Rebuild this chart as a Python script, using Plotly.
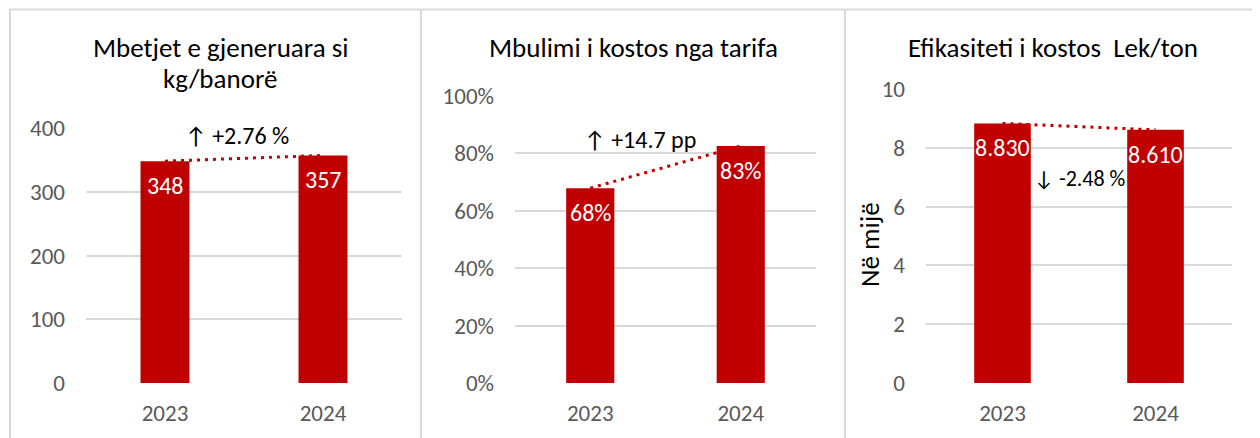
import plotly.graph_objects as go

# ---- data ----
years = ["2023", "2024"]
waste_kg = [348, 357]            # Mbetjet e gjeneruara si kg/banorë
cost_cover = [0.679, 0.826]      # Mbulimi i kostos nga tarifa
cost_eff = [8.83, 8.61]          # Efikasiteti i kostos Lek/ton (në mijë)

titles = [["Mbetjet e gjeneruara si", "kg/banorë"],
          ["Mbulimi i kostos nga tarifa"],
          ["Efikasiteti i kostos  Lek/ton"]]
changes = ["↑ +2.76 %", "↑ +14.7 pp", "↓ -2.48 %"]
y_title3 = "Në mijë"
y1_ticks = [0, 100, 200, 300, 400]
y2_ticks = [0, 0.2, 0.4, 0.6, 0.8, 1.0]
y3_ticks = [0, 2, 4, 6, 8, 10]

# page body has an 8px margin: map reference pixels into the figure
OFF = 8
W, H = 1260 - OFF, 438 - OFF
RED = "#c00000"
GRID = "#d9d9d9"
TICK = "#595959"
FONT = "Carlito, Calibri, Lato, sans-serif"


def px_x(p):
    return (p - OFF) / W


def px_y(p):
    return 1 - (p - OFF) / H


fig = go.Figure()

panels = [
    dict(vals=waste_kg, lbl=[f"{v:.0f}" for v in waste_kg], width=0.31,
         xd=(86, 402), ytop=128, rng=[0, 400], ticks=y1_ticks,
         tickfmt="", ann=(0.456, 389), annsize=24),
    dict(vals=cost_cover, lbl=[f"{v:.0%}" for v in cost_cover], width=0.32,
         xd=(515, 816), ytop=96, rng=[0, 1], ticks=y2_ticks,
         tickfmt=".0%", ann=(0.33, 0.848), annsize=24),
    dict(vals=cost_eff, lbl=[f"{v:.3f}" for v in cost_eff], width=0.37,
         xd=(926, 1232), ytop=89, rng=[0, 10], ticks=y3_ticks,
         tickfmt="", ann=(0.507, 6.96), annsize=22),
]

annotations = []
axes = {}
for i, p in enumerate(panels):
    n = "" if i == 0 else str(i + 1)
    xa, ya = "x" + n, "y" + n
    fig.add_trace(go.Bar(x=years, y=p["vals"], width=p["width"],
                         marker=dict(color=RED, line=dict(width=0)),
                         xaxis=xa, yaxis=ya, showlegend=False,
                         hoverinfo="skip"))
    fig.add_trace(go.Scatter(x=years, y=p["vals"], mode="lines",
                             line=dict(color=RED, width=3, dash="3px,5px"),
                             xaxis=xa, yaxis=ya, showlegend=False,
                             hoverinfo="skip"))
    axes["xaxis" + n] = dict(
        type="category", categoryorder="array", categoryarray=years,
        range=[-0.5, 1.5],
        domain=[px_x(p["xd"][0]), px_x(p["xd"][1])], anchor=ya,
        showgrid=False, showline=False, zeroline=False, ticks="",
        ticklabelstandoff=14, automargin=False,
        tickfont=dict(family=FONT, size=23, color=TICK), fixedrange=True)
    axes["yaxis" + n] = dict(
        domain=[px_y(383), px_y(p["ytop"])], anchor=xa,
        range=p["rng"], tickvals=p["ticks"], tickformat=p["tickfmt"],
        showgrid=True, gridcolor=GRID, gridwidth=2, zeroline=False,
        showline=False, ticks="", ticklabelstandoff=20, automargin=False,
        tickfont=dict(family=FONT, size=23, color=TICK), fixedrange=True)
    # data labels
    for k, (v, t) in enumerate(zip(p["vals"], p["lbl"])):
        annotations.append(dict(x=k, y=v, xref=xa, yref=ya, text=t,
                                showarrow=False, yanchor="top", yshift=-8,
                                font=dict(family=FONT, size=24, color="white")))
    # change annotation
    annotations.append(dict(x=p["ann"][0], y=p["ann"][1], xref=xa, yref=ya,
                            text=changes[i], showarrow=False,
                            font=dict(family=FONT, size=p["annsize"],
                                      color="#000000")))

# titles (one annotation per line)
title_x = [220, 633, 1053]
line_y = [48, 78]
for lines, tx in zip(titles, title_x):
    for ln, ty in zip(lines, line_y):
        annotations.append(dict(x=px_x(tx), y=px_y(ty), xref="paper",
                                yref="paper", text=ln, showarrow=False,
                                xanchor="center", yanchor="middle",
                                font=dict(family=FONT, size=27,
                                          color="#000000")))

# y-axis title of third panel
annotations.append(dict(x=px_x(870), y=px_y(245), xref="paper", yref="paper",
                        text=y_title3, textangle=-90, showarrow=False,
                        xanchor="center", yanchor="middle",
                        font=dict(family=FONT, size=27, color="#000000")))

# panel borders
shapes = [
    dict(type="line", xref="paper", yref="paper", x0=px_x(9), x1=1,
         y0=px_y(9.5), y1=px_y(9.5), line=dict(color=GRID, width=2)),
]
for bx in (10, 421, 845):
    shapes.append(dict(type="line", xref="paper", yref="paper",
                       x0=px_x(bx), x1=px_x(bx), y0=px_y(9), y1=0,
                       line=dict(color=GRID, width=2)))

fig.update_layout(width=W, height=H, margin=dict(l=0, r=0, t=0, b=0, pad=0),
                  paper_bgcolor="white", plot_bgcolor="white",
                  annotations=annotations, shapes=shapes,
                  font=dict(family=FONT), **axes)

fig.write_html("out.html", config={"displayModeBar": False})
